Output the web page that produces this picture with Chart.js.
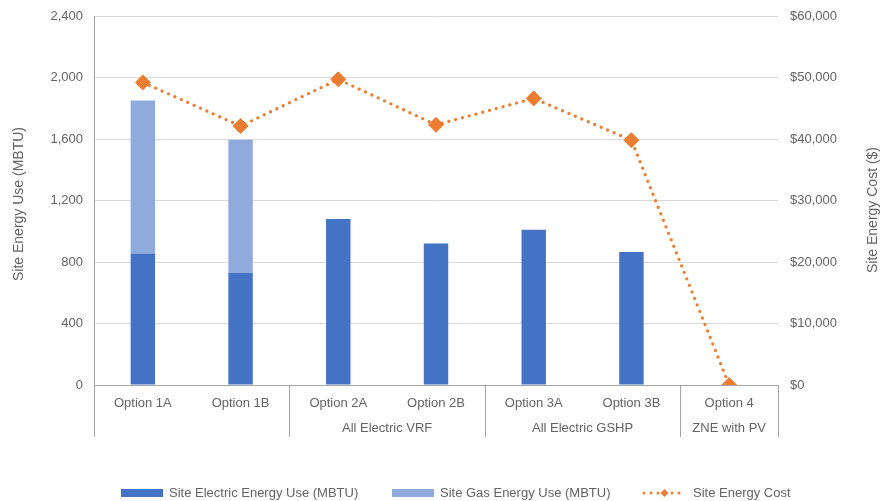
<!DOCTYPE html>
<html>
<head>
<meta charset="utf-8">
<script src="https://cdn.jsdelivr.net/npm/chart.js@4.4.1/dist/chart.umd.min.js"></script>
<style>
  html, body { margin: 0; padding: 0; background: #ffffff; }
  #wrap { width: 881px; height: 501px; position: relative; }
</style>
</head>
<body>
<div id="wrap"><canvas id="chart" width="881" height="501"></canvas></div>
<script>
// Categories and their grouping on the second label row
const categories = ['Option 1A', 'Option 1B', 'Option 2A', 'Option 2B', 'Option 3A', 'Option 3B', 'Option 4'];
const groupNames = ['', 'All Electric VRF', 'All Electric GSHP', 'ZNE with PV'];
const groupSizes = [2, 2, 2, 1];

// Site energy use (MBTU), stacked
const electricUse = [855, 730, 1080, 920, 1010, 865, 0];
const gasUse = [995, 865, 0, 0, 0, 0, 0];

// Site energy cost ($)
const energyCost = [49200, 42100, 49700, 42300, 46600, 39800, 0];

// Axis ticks
const useTicks = [0, 400, 800, 1200, 1600, 2000, 2400];
const costTicks = [0, 10000, 20000, 30000, 40000, 50000, 60000];

const seriesNames = ['Site Electric Energy Use (MBTU)', 'Site Gas Energy Use (MBTU)', 'Site Energy Cost'];
const leftTitle = 'Site Energy Use (MBTU)';
const rightTitle = 'Site Energy Cost ($)';

const COLORS = { electric: '#4472C4', gas: '#8FAADC', cost: '#ED7D31', text: '#646464', grid: '#d9d9d9', axis: '#a6a6a6' };
const FONT = '"Liberation Sans", Arial, sans-serif';

const fmt = v => v.toLocaleString('en-US');

// Draws the grouped category row, the axis titles and the legend
const extras = {
  id: 'extras',
  afterDraw(chart) {
    const { ctx, chartArea } = chart;
    const x = chart.scales.x;
    const bottom = chartArea.bottom;
    const sepBottom = bottom + 52;
    ctx.save();
    ctx.strokeStyle = COLORS.axis;
    ctx.lineWidth = 1;

    const edgeAt = i => {
      if (i <= 0) return chartArea.left;
      if (i >= categories.length) return chartArea.right;
      return (x.getPixelForValue(i - 1) + x.getPixelForValue(i)) / 2;
    };

    let start = 0;
    const edges = [0];
    groupSizes.forEach(n => { start += n; edges.push(start); });
    edges.forEach(i => {
      const px = Math.round(edgeAt(i)) + 0.5;
      ctx.beginPath();
      ctx.moveTo(px, bottom);
      ctx.lineTo(px, sepBottom);
      ctx.stroke();
    });

    ctx.fillStyle = COLORS.text;
    ctx.font = '13px ' + FONT;
    ctx.textAlign = 'center';
    ctx.textBaseline = 'middle';
    groupNames.forEach((name, g) => {
      if (!name) return;
      const cx = (edgeAt(edges[g]) + edgeAt(edges[g + 1])) / 2;
      ctx.fillText(name, cx, bottom + 43);
    });

    // Axis titles, both reading bottom to top
    ctx.font = '14px ' + FONT;
    ctx.save();
    ctx.translate(19, 204);
    ctx.rotate(-Math.PI / 2);
    ctx.fillText(leftTitle, 0, 0);
    ctx.restore();
    ctx.save();
    ctx.translate(873, 210);
    ctx.rotate(-Math.PI / 2);
    ctx.fillText(rightTitle, 0, 0);
    ctx.restore();

    // Legend
    const ly = 493;
    ctx.font = '13px ' + FONT;
    ctx.textAlign = 'left';
    ctx.fillStyle = COLORS.electric;
    ctx.fillRect(121, ly - 4, 42, 8);
    ctx.fillStyle = COLORS.text;
    ctx.fillText(seriesNames[0], 169, ly);
    ctx.fillStyle = COLORS.gas;
    ctx.fillRect(392, ly - 4, 42, 8);
    ctx.fillStyle = COLORS.text;
    ctx.fillText(seriesNames[1], 440, ly);

    ctx.strokeStyle = COLORS.cost;
    ctx.lineWidth = 3;
    ctx.lineCap = 'round';
    ctx.setLineDash([0.01, 7]);
    ctx.beginPath();
    ctx.moveTo(644, ly);
    ctx.lineTo(685, ly);
    ctx.stroke();
    ctx.setLineDash([]);
    ctx.fillStyle = COLORS.cost;
    ctx.beginPath();
    ctx.moveTo(664.5 - 4, ly);
    ctx.lineTo(664.5, ly - 4);
    ctx.lineTo(664.5 + 4, ly);
    ctx.lineTo(664.5, ly + 4);
    ctx.closePath();
    ctx.fill();
    ctx.fillStyle = COLORS.text;
    ctx.fillText(seriesNames[2], 693, ly);
    ctx.restore();
  }
};

new Chart(document.getElementById('chart'), {
  type: 'bar',
  data: {
    labels: categories,
    datasets: [
      {
        type: 'line',
        label: seriesNames[2],
        data: energyCost,
        yAxisID: 'y1',
        order: 0,
        borderColor: COLORS.cost,
        backgroundColor: COLORS.cost,
        borderWidth: 3.2,
        borderDash: [0.01, 7],
        borderCapStyle: 'round',
        pointStyle: 'rectRot',
        pointRadius: 7.5,
        pointBorderWidth: 1,
        pointBackgroundColor: COLORS.cost,
        pointBorderColor: COLORS.cost,
        tension: 0,
        fill: false
      },
      {
        label: seriesNames[0],
        data: electricUse,
        backgroundColor: COLORS.electric,
        yAxisID: 'y',
        stack: 'use',
        order: 1,
        barPercentage: 0.25,
        categoryPercentage: 1
      },
      {
        label: seriesNames[1],
        data: gasUse,
        backgroundColor: COLORS.gas,
        yAxisID: 'y',
        stack: 'use',
        order: 1,
        barPercentage: 0.25,
        categoryPercentage: 1
      }
    ]
  },
  options: {
    responsive: false,
    animation: false,
    devicePixelRatio: 1,
    layout: { padding: { top: 16, left: 0, right: 0, bottom: 0 } },
    plugins: {
      legend: { display: false },
      tooltip: { enabled: false }
    },
    scales: {
      x: {
        stacked: true,
        offset: true,
        grid: { display: false, drawTicks: false },
        border: { display: true, color: COLORS.axis },
        ticks: { color: COLORS.text, font: { family: FONT, size: 13 }, padding: 11, maxRotation: 0, autoSkip: false },
        afterFit(scale) { scale.height = 116; scale.paddingLeft = 0; scale.paddingRight = 0; }
      },
      y: {
        position: 'left',
        stacked: true,
        min: 0,
        max: 2400,
        afterBuildTicks(scale) { scale.ticks = useTicks.map(v => ({ value: v })); },
        grid: { color: COLORS.grid, drawTicks: false },
        border: { display: true, color: COLORS.axis },
        ticks: { color: COLORS.text, font: { family: FONT, size: 13 }, padding: 11, callback: v => fmt(v) },
        afterFit(scale) { scale.width = 94; scale.paddingTop = 0; scale.paddingBottom = 0; }
      },
      y1: {
        position: 'right',
        min: 0,
        max: 60000,
        afterBuildTicks(scale) { scale.ticks = costTicks.map(v => ({ value: v })); },
        grid: { display: false, drawTicks: false },
        border: { display: false },
        ticks: { color: COLORS.text, font: { family: FONT, size: 13 }, padding: 12, callback: v => '$' + fmt(v) },
        afterFit(scale) { scale.width = 103; scale.paddingTop = 0; scale.paddingBottom = 0; }
      }
    }
  },
  plugins: [extras]
});
</script>
</body>
</html>
